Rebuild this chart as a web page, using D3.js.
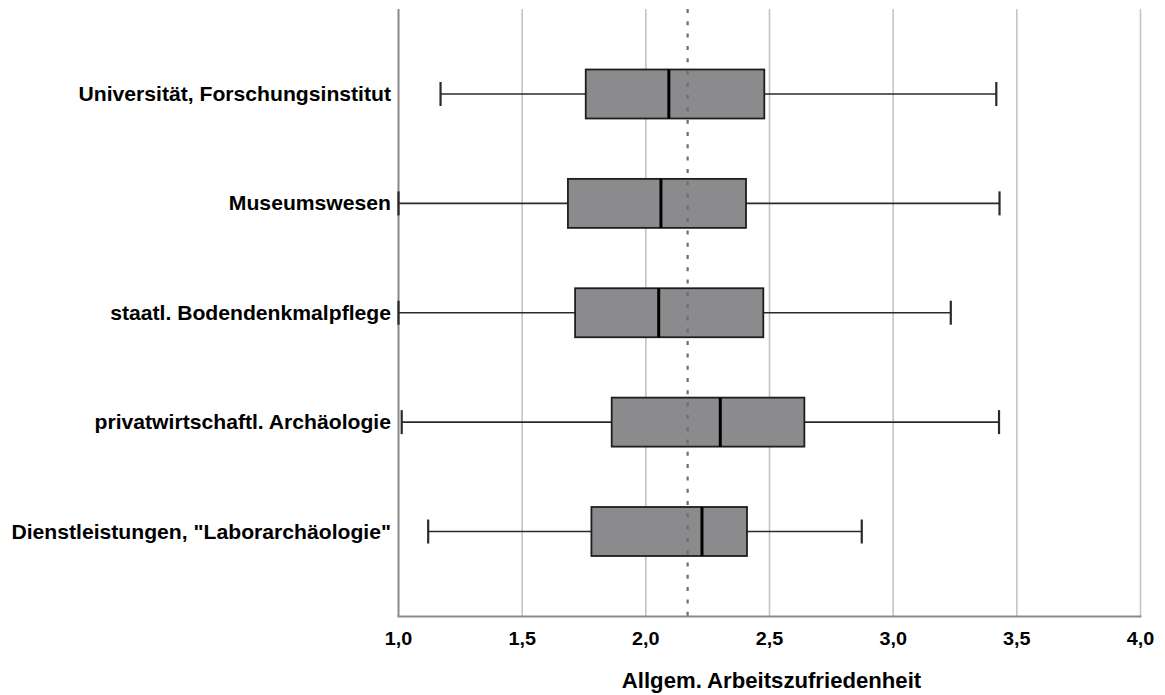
<!DOCTYPE html>
<html><head><meta charset="utf-8">
<script src="https://cdn.jsdelivr.net/npm/d3@7"></script>
<style>body{margin:0;background:#fff}svg{display:block}</style>
</head><body><div id="c"></div>
<script>
const categories = ["Universität, Forschungsinstitut","Museumswesen","staatl. Bodendenkmalpflege","privatwirtschaftl. Archäologie","Dienstleistungen, \"Laborarchäologie\""];
const whiskerMin = [1.17, 1.00, 1.00, 1.013, 1.12];
const q1 = [1.757, 1.685, 1.714, 1.862, 1.780];
const median = [2.093, 2.061, 2.052, 2.301, 2.227];
const q3 = [2.479, 2.405, 2.475, 2.641, 2.409];
const whiskerMax = [3.417, 3.43, 3.233, 3.428, 2.873];
const referenceValue = 2.169;
const tickValues = [1.0,1.5,2.0,2.5,3.0,3.5,4.0];
const tickLabels = ["1,0","1,5","2,0","2,5","3,0","3,5","4,0"];
const axisTitle = "Allgem. Arbeitszufriedenheit";

const W=1165,H=695;
const svg=d3.select("#c").append("svg").attr("width",W).attr("height",H);
const x=d3.scaleLinear().domain([1,4]).range([398.5,1140.5]);
const y=d3.scalePoint().domain(categories).range([94,531.5]);
const plotTop=9,plotBottom=616.5,boxH=49,capH=24;
const font="'Liberation Sans', Arial, sans-serif";

// gridlines
svg.append("g").selectAll("line").data(tickValues.slice(1)).join("line")
  .attr("x1",d=>x(d)).attr("x2",d=>x(d)).attr("y1",plotTop).attr("y2",plotBottom)
  .attr("stroke","#c4c4c4").attr("stroke-width",1.6);

// axes lines
svg.append("line").attr("x1",x(1)).attr("x2",x(1)).attr("y1",plotTop).attr("y2",plotBottom)
  .attr("stroke","#8a8a8a").attr("stroke-width",2);
svg.append("line").attr("x1",x(1)-1).attr("x2",x(4)+1).attr("y1",plotBottom).attr("y2",plotBottom)
  .attr("stroke","#8a8a8a").attr("stroke-width",2);

const data=categories.map((c,i)=>({c,min:whiskerMin[i],q1:q1[i],med:median[i],q3:q3[i],max:whiskerMax[i]}));
const g=svg.append("g").selectAll("g").data(data).join("g");
// whiskers
g.append("line").attr("x1",d=>x(d.min)).attr("x2",d=>x(d.q1)).attr("y1",d=>y(d.c)).attr("y2",d=>y(d.c))
  .attr("stroke","#2a2a2a").attr("stroke-width",1.7);
g.append("line").attr("x1",d=>x(d.q3)).attr("x2",d=>x(d.max)).attr("y1",d=>y(d.c)).attr("y2",d=>y(d.c))
  .attr("stroke","#2a2a2a").attr("stroke-width",1.7);
g.append("line").attr("x1",d=>x(d.min)).attr("x2",d=>x(d.min)).attr("y1",d=>y(d.c)-capH/2).attr("y2",d=>y(d.c)+capH/2)
  .attr("stroke","#2a2a2a").attr("stroke-width",2.2);
g.append("line").attr("x1",d=>x(d.max)).attr("x2",d=>x(d.max)).attr("y1",d=>y(d.c)-capH/2).attr("y2",d=>y(d.c)+capH/2)
  .attr("stroke","#2a2a2a").attr("stroke-width",2.2);
// box
g.append("rect").attr("x",d=>x(d.q1)).attr("width",d=>x(d.q3)-x(d.q1)).attr("y",d=>y(d.c)-boxH/2).attr("height",boxH)
  .attr("fill","#8b8a8c").attr("stroke","#1e1e1e").attr("stroke-width",1.8);
g.append("line").attr("x1",d=>x(d.med)).attr("x2",d=>x(d.med)).attr("y1",d=>y(d.c)-boxH/2).attr("y2",d=>y(d.c)+boxH/2)
  .attr("stroke","#000").attr("stroke-width",3);

// reference dotted line
svg.append("line").attr("x1",x(referenceValue)).attr("x2",x(referenceValue)).attr("y1",plotTop).attr("y2",plotBottom)
  .attr("stroke","#6e6e6e").attr("stroke-width",2.2).attr("stroke-dasharray","4,8.3");

// category labels
svg.append("g").selectAll("text").data(categories).join("text")
  .attr("transform",d=>`translate(391,${y(d)+7}) scale(1.08,1)`)
  .attr("text-anchor","end").attr("font-family",font).attr("font-weight","bold").attr("font-size",19.6)
  .attr("fill","#000").text(d=>d);

// tick labels
svg.append("g").selectAll("text").data(tickValues).join("text")
  .attr("transform",(d)=>`translate(${x(d)},645) scale(1.1,1)`)
  .attr("text-anchor","middle").attr("font-family",font).attr("font-weight","bold").attr("font-size",18)
  .attr("fill","#000").text((d,i)=>tickLabels[i]);

// axis title
svg.append("text").attr("transform",`translate(${(x(1)+x(4))/2+2},688) scale(1.04,1)`)
  .attr("text-anchor","middle").attr("font-family",font).attr("font-weight","bold").attr("font-size",21.3)
  .attr("fill","#000").text(axisTitle);
</script></body></html>
